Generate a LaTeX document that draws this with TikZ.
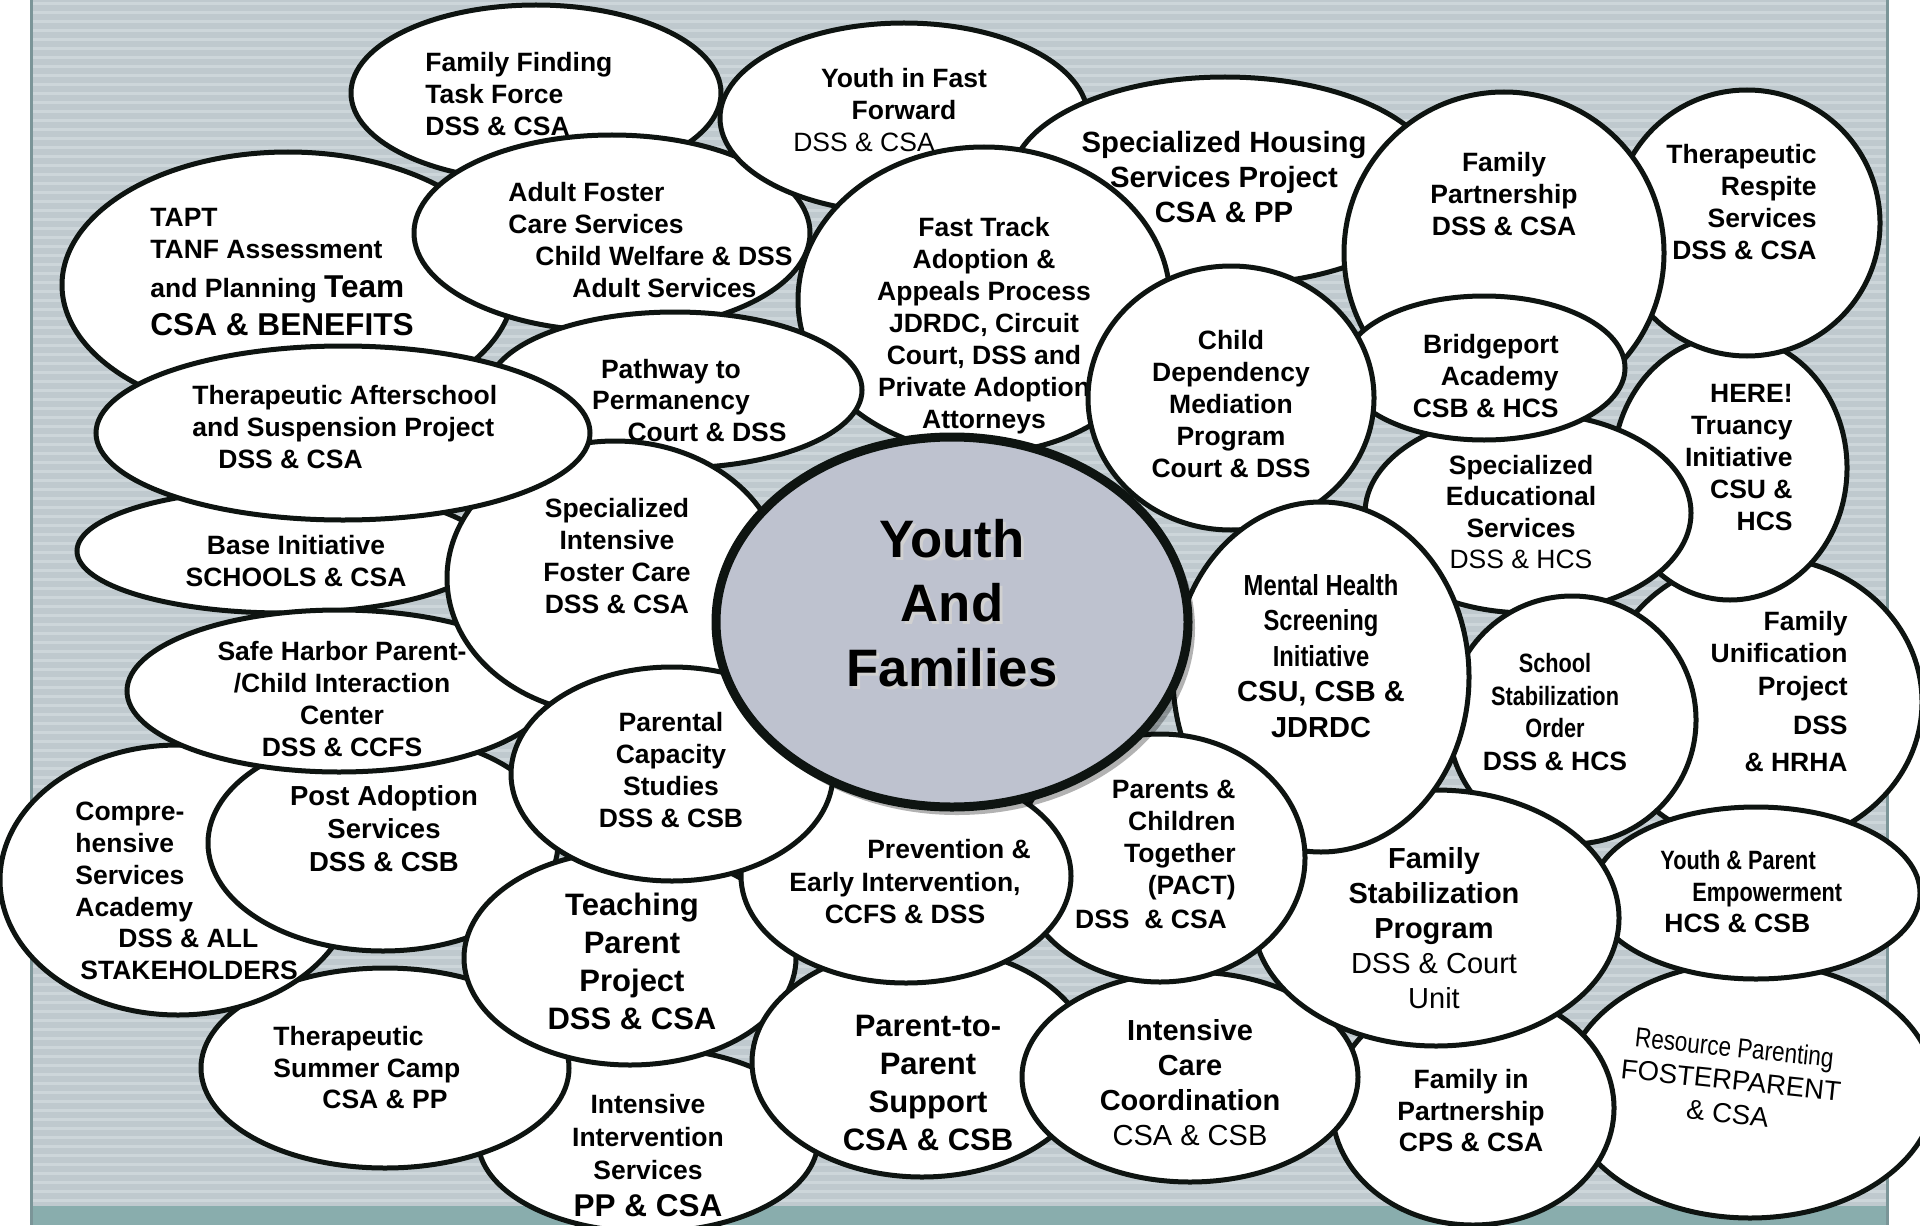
\documentclass[tikz,border=0pt]{standalone}
\usepackage{fontspec}
\setmainfont{Liberation Sans}
\newfontfamily\narrowfont[FakeStretch=0.82]{Liberation Sans}
\newcommand\fsz[2]{\fontsize{#1}{#2}\selectfont}
\definecolor{panel}{HTML}{BFC9CE}
\definecolor{stripe}{HTML}{CDD6DA}
\definecolor{paneledge}{HTML}{7B9598}
\definecolor{stripteal}{HTML}{89ADAD}
\definecolor{ink}{HTML}{0E1411}
\definecolor{hub}{HTML}{BEC2CF}
\begin{document}
\begin{tikzpicture}[x=0.5pt,y=-0.5pt,
  ell/.style={draw=ink,fill=white,line width=2.5pt},
  lbl/.style={inner sep=0pt,align=center,font=\bfseries\fsz{13.25}{16}}]
\useasboundingbox (0,0) rectangle (1920,1225);
\fill[white] (0,0) rectangle (1920,1225);
\fill[panel] (31,0) rectangle (1887,1206);
\foreach \yy in {2,11,...,1200} \fill[stripe] (31,\yy) rectangle (1887,\yy+3);
\fill[stripteal] (31,1206) rectangle (1887,1225);
\draw[paneledge,line width=1.5pt] (31,0) -- (31,1225);
\draw[paneledge,line width=1.5pt] (1887,0) -- (1887,1225);

% Family Finding
\draw[ell] (536,93) ellipse [x radius=185,y radius=88];
\node[lbl,align=left,anchor=west] (ff) at (425,94) {Family Finding\\Task Force\\DSS \& CSA};
% TAPT
\draw[ell] (288,285) ellipse [x radius=226,y radius=133];
\node[lbl,align=left,anchor=west] (tapt1) at (150,234) {TAPT\\TANF Assessment};
\node[lbl,anchor=base west] (tapt2) at (150,297) {and Planning {\fsz{15.8}{19}Team}};
\node[lbl,anchor=base west,font=\bfseries\fsz{15.8}{19}] (tapt3) at (150,335) {CSA \& BENEFITS};
% Adult Foster
\draw[ell] (612,233) ellipse [x radius=198,y radius=98];
\node[lbl,align=left,anchor=west] (af) at (508,240) {Adult Foster\\Care Services\\\hspace*{13.5pt}Child Welfare \& DSS\\\hspace*{32pt}Adult Services};
% Youth in Fast Forward
\draw[ell] (904,118) ellipse [x radius=184,y radius=95];
\node[lbl] (yff1) at (904,94) {Youth in Fast\\Forward};
\node[lbl,font=\fsz{13.25}{16}] (yff2) at (864,142) {DSS \& CSA};
% Specialized Housing
\draw[ell] (1225,181) ellipse [x radius=214,y radius=104];
\node[lbl,font=\bfseries\fsz{14.65}{17.5}] (hsg) at (1224,177) {Specialized Housing\\Services Project\\CSA \& PP};
% Fast Track
\draw[ell] (984,300) ellipse [x radius=186,y radius=153];
\node[lbl] (ft) at (984,326) {Fast Track\\Adoption \&\\Appeals Process\\JDRDC, Circuit\\Court, DSS and\\Private Adoption\\Attorneys};
% Pathway
\draw[ell] (675,390) ellipse [x radius=187,y radius=78];
\node[lbl,font=\bfseries\fsz{13.25}{15.5}] (pw1) at (671,387) {Pathway to\\Permanency};
\node[lbl] (pw2) at (707,432) {Court \& DSS};
% Base
\draw[ell] (283,551) ellipse [x radius=206,y radius=62];
\node[lbl] (base) at (296,561) {Base Initiative\\SCHOOLS \& CSA};
% Intensive Intervention
\draw[ell] (648,1140) ellipse [x radius=170,y radius=92];
\node[lbl,font=\bfseries\fsz{13.25}{16.5}] (ii1) at (648,1137) {Intensive\\Intervention\\Services};
\node[lbl,font=\bfseries\fsz{15.75}{19}] (ii2) at (648,1206) {PP \& CSA};
% Summer Camp
\draw[ell] (385,1068) ellipse [x radius=184,y radius=100];
\node[lbl,align=left,anchor=west,font=\bfseries\fsz{13.25}{15.75}] (camp) at (273,1068) {Therapeutic\\Summer Camp\\\hspace*{24.5pt}CSA \& PP};
% Comprehensive
\draw[ell] (178,880) ellipse [x radius=178,y radius=135];
\node[lbl,align=left,anchor=west,font=\bfseries\fsz{13.25}{15.9}] (csa) at (75,891) {Compre-\\hensive\\Services\\Academy\\\hspace*{21.5pt}DSS \& ALL\\\hspace*{2.5pt}STAKEHOLDERS};
% Post Adoption
\draw[ell] (383,843) ellipse [x radius=175,y radius=108];
\node[lbl,font=\bfseries\fsz{13.75}{16.5}] (pa) at (384,829) {Post Adoption\\Services\\DSS \& CSB};
% Safe Harbor
\draw[ell] (339,691) ellipse [x radius=212,y radius=81];
\node[lbl] (sh) at (342,699) {Safe Harbor Parent-\\/Child Interaction\\Center\\DSS \& CCFS};
% Specialized Intensive Foster Care
\draw[ell] (615,578) ellipse [x radius=168,y radius=137];
\node[lbl] (sifc) at (617,556) {Specialized\\Intensive\\Foster Care\\DSS \& CSA};
% Therapeutic Afterschool
\draw[ell] (343,433) ellipse [x radius=247,y radius=87];
\node[lbl,align=left,anchor=west] (tasp) at (192,427) {Therapeutic Afterschool\\and Suspension Project\\\hspace*{13pt}DSS \& CSA};
% Teaching Parent
\draw[ell] (630,958) ellipse [x radius=166,y radius=107];
\node[lbl,font=\bfseries\fsz{15.5}{19}] (tpp) at (632,961) {Teaching\\Parent\\Project\\DSS \& CSA};
% Parent-to-Parent
\draw[ell] (922,1062) ellipse [x radius=170,y radius=115];
\node[lbl,font=\bfseries\fsz{15.5}{19}] (p2p) at (928,1083) {Parent-to-\\Parent\\Support\\CSA \& CSB};
% Family Unification
\draw[ell] (1762,702) ellipse [x radius=160,y radius=145];
\node[lbl,align=right,anchor=east,font=\bfseries\fsz{13.25}{16.25}] (fu1) at (1848,656) {Family\\Unification\\Project};
\node[lbl,align=right,anchor=east,font=\bfseries\fsz{13.25}{18.5}] (fu2) at (1848,744) {DSS\\\& HRHA};
% HERE
\draw[ell] (1730,468) ellipse [x radius=117,y radius=132];
\node[lbl,align=right,anchor=east] (here) at (1793,458) {HERE!\\Truancy\\Initiative\\CSU \&\\HCS};
% Specialized Educational
\draw[ell] (1528,513) ellipse [x radius=163,y radius=100];
\node[lbl,font=\bfseries\fsz{13.25}{15.75}] (ses) at (1521,512) {Specialized\\Educational\\Services\\{\mdseries DSS \& HCS}};
% Therapeutic Respite
\draw[ell] (1747,223) ellipse [x radius=133,y radius=133];
\node[lbl,align=right,anchor=east] (tr) at (1817,202) {Therapeutic\\Respite\\Services\\DSS \& CSA};
% Family Partnership
\draw[ell] (1504,253) ellipse [x radius=160,y radius=161];
\node[lbl] (fp) at (1504,194) {Family\\Partnership\\DSS \& CSA};
% Bridgeport
\draw[ell] (1484,368) ellipse [x radius=141,y radius=72];
\node[lbl,align=right,anchor=east] (bpa) at (1559,376) {Bridgeport\\Academy\\CSB \& HCS};
% Child Dependency
\draw[ell] (1231,398) ellipse [x radius=143,y radius=132];
\node[lbl] (cdm) at (1231,404) {Child\\Dependency\\Mediation\\Program\\Court \& DSS};
% School Stabilization
\draw[ell] (1572,720) ellipse [x radius=124,y radius=124];
\node[lbl,font=\bfseries\fsz{13.25}{16.2}] (sso) at (1555,712) {{\narrowfont School}\\{\narrowfont Stabilization}\\{\narrowfont Order}\\DSS \& HCS};
% Resource Parenting
\draw[ell] (1750,1090) ellipse [x radius=185,y radius=128];
\node[inner sep=0pt,align=center,rotate=-6,font=\fsz{13.75}{16.5}] (rp) at (1731,1080) {{\narrowfont Resource Parenting}\\FOSTERPARENT\\\& CSA};
% Youth & Parent Empowerment
\draw[ell] (1756,893) ellipse [x radius=164,y radius=86];
\node[lbl,align=left,anchor=west,font=\bfseries\fsz{13.25}{15.75}] (ype) at (1660,892) {{\narrowfont Youth \& Parent}\\\hspace*{16pt}{\narrowfont Empowerment}\\\hspace*{2pt}HCS \& CSB};
% Family in Partnership
\draw[ell] (1473,1108) ellipse [x radius=141,y radius=117];
\node[lbl,font=\bfseries\fsz{13.25}{15.75}] (fip) at (1471,1111) {Family in\\Partnership\\CPS \& CSA};
% Intensive Care Coordination
\draw[ell] (1190,1077) ellipse [x radius=168,y radius=105];
\node[lbl,font=\bfseries\fsz{14.5}{17.5}] (icc) at (1190,1083) {Intensive\\Care\\Coordination\\{\mdseries CSA \& CSB}};
% Family Stabilization
\draw[ell] (1436,918) ellipse [x radius=183,y radius=128];
\node[lbl,font=\bfseries\fsz{14.5}{17.5}] (fsp) at (1434,928) {Family\\Stabilization\\Program\\{\mdseries DSS \& Court}\\{\mdseries Unit}};
% Mental Health
\draw[ell] (1321,677) ellipse [x radius=148,y radius=175];
\node[lbl,font=\bfseries\fsz{14.5}{17.75}] (mh) at (1321,656) {{\narrowfont Mental Health}\\{\narrowfont Screening}\\{\narrowfont Initiative}\\CSU, CSB \&\\JDRDC};
% PACT
\draw[ell] (1160,858) ellipse [x radius=145,y radius=124];
\node[lbl,align=right,anchor=east] (pact1) at (1236,840) {Parents \&\\Children\\Together\\(PACT)};
\node[lbl] (pact2) at (1151,919) {DSS\ \ \& CSA};
% Prevention
\draw[ell] (906,876) ellipse [x radius=165,y radius=107];
\node[lbl] (pei1) at (949,849) {Prevention \&};
\node[lbl,font=\bfseries\fsz{13.25}{15.75}] (pei2) at (905,898) {Early Intervention,\\CCFS \& DSS};
% Parental Capacity
\draw[ell] (672,774) ellipse [x radius=161,y radius=107];
\node[lbl] (pcs) at (671,770) {Parental\\Capacity\\Studies\\DSS \& CSB};
% Hub
\fill[black,opacity=0.3] (957,628) ellipse [x radius=238,y radius=187];
\draw[draw=ink,fill=hub,line width=4.5pt] (952,622) ellipse [x radius=236,y radius=185];
\node[inner sep=0pt,align=center,font=\bfseries\fsz{26.35}{32.25},text=black!18] (hubshadow) at (955,606) {Youth\\And\\Families};
\node[inner sep=0pt,align=center,font=\bfseries\fsz{26.35}{32.25}] (hub) at (952,603) {Youth\\And\\Families};
\end{tikzpicture}
\end{document}
